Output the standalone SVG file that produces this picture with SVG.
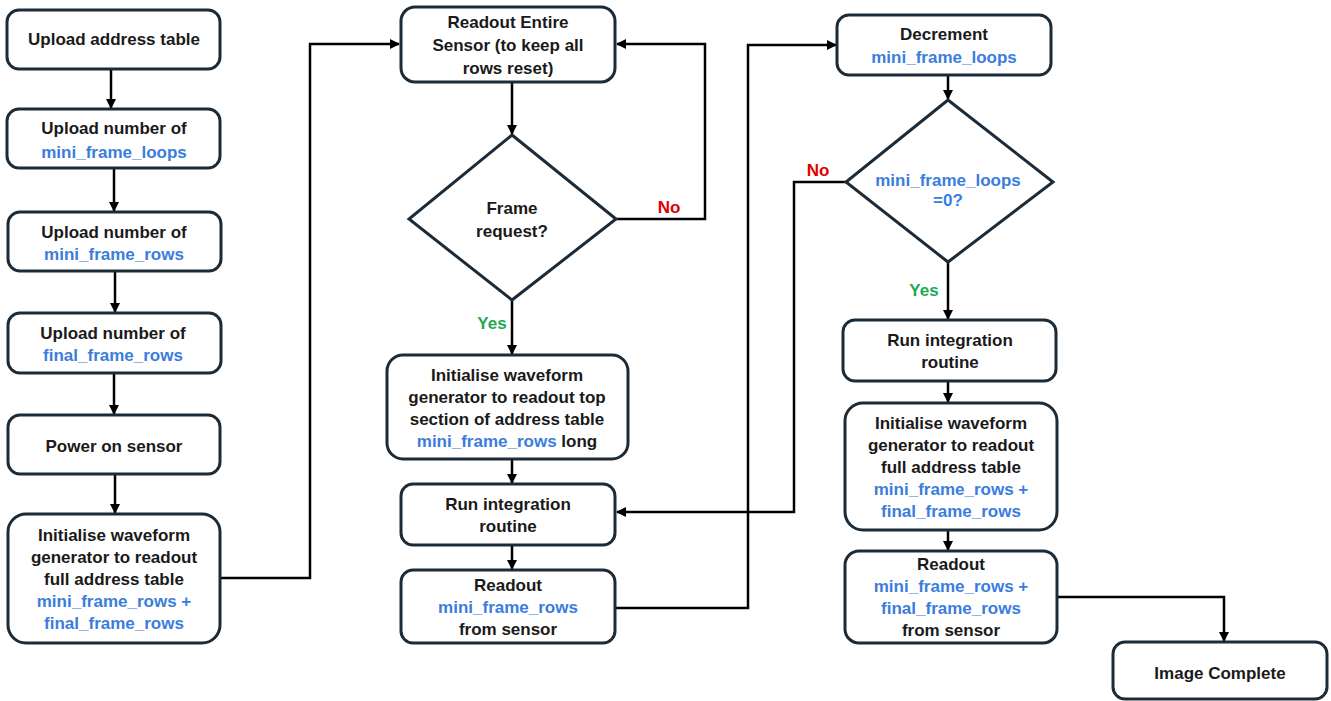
<svg xmlns="http://www.w3.org/2000/svg" width="1331" height="701" viewBox="0 0 1331 701">
<style>
.box{fill:#fff;stroke:#1c2b38;stroke-width:3}
.t{font-family:"Liberation Sans",Arial,sans-serif;font-weight:bold;font-size:17px;fill:#1a1a1a;text-anchor:middle}
.b{fill:#3b7ddd}
.c{fill:none;stroke:#000;stroke-width:2.5;marker-end:url(#ah)}
.no{font-family:"Liberation Sans",Arial,sans-serif;font-weight:bold;font-size:17px;fill:#e00000;text-anchor:middle}
.yes{font-family:"Liberation Sans",Arial,sans-serif;font-weight:bold;font-size:17px;fill:#22a855;text-anchor:middle}
</style>
<defs>
<marker id="ah" viewBox="0 0 10 10" refX="9" refY="5" markerWidth="4" markerHeight="4" markerUnits="strokeWidth" orient="auto">
<path d="M0,0 L10,5 L0,10 z" fill="#000"/>
</marker>
</defs>
<rect width="1331" height="701" fill="#fff"/>
<g id="connectors">
<path class="c" d="M111,69 V108"/>
<path class="c" d="M114,168 V211"/>
<path class="c" d="M115,271 V312"/>
<path class="c" d="M114,373 V414"/>
<path class="c" d="M115,474 V513"/>
<path class="c" d="M220,578 H310 V44 H399"/>
<path class="c" d="M512,82 V134"/>
<path class="c" d="M616,219 H705 V44 H617"/>
<path class="c" d="M512,300 V354"/>
<path class="c" d="M512,459 V483"/>
<path class="c" d="M512,545 V569"/>
<path class="c" d="M615,608 H748 V45 H836"/>
<path class="c" d="M846,182 H794 V512 H617"/>
<path class="c" d="M948,75 V99"/>
<path class="c" d="M948,262 V319"/>
<path class="c" d="M948,381 V402"/>
<path class="c" d="M948,530 V550"/>
<path class="c" d="M1057,597 H1224 V641"/>
<text class="no" x="669" y="213">No</text>
<text class="yes" x="492" y="329">Yes</text>
<text class="no" x="818" y="176">No</text>
<text class="yes" x="924" y="296">Yes</text>
</g>
<g id="n1"><rect class="box" x="7" y="10" width="213" height="59" rx="12"/><text class="t" x="114" y="45">Upload address table</text></g>
<g id="n2"><rect class="box" x="7" y="109" width="213" height="59" rx="12"/><text class="t" x="114" y="134">Upload number of</text><text class="t b" x="114" y="158">mini_frame_loops</text></g>
<g id="n3"><rect class="box" x="8" y="212" width="213" height="59" rx="12"/><text class="t" x="114" y="238">Upload number of</text><text class="t b" x="114" y="260">mini_frame_rows</text></g>
<g id="n4"><rect class="box" x="8" y="313" width="213" height="60" rx="12"/><text class="t" x="113" y="339">Upload number of</text><text class="t b" x="113" y="361">final_frame_rows</text></g>
<g id="n5"><rect class="box" x="8" y="415" width="212" height="59" rx="12"/><text class="t" x="114" y="452">Power on sensor</text></g>
<g id="n6"><rect class="box" x="8" y="514" width="212" height="129" rx="18"/><text class="t" x="114" y="541">Initialise waveform</text><text class="t" x="114" y="563">generator to readout</text><text class="t" x="114" y="585">full address table</text><text class="t b" x="114" y="607">mini_frame_rows +</text><text class="t b" x="114" y="629">final_frame_rows</text></g>
<g id="n7"><rect class="box" x="401" y="7" width="214" height="75" rx="14"/><text class="t" x="508" y="28">Readout Entire</text><text class="t" x="508" y="51">Sensor (to keep all</text><text class="t" x="508" y="74">rows reset)</text></g>
<g id="n8"><polygon class="box" points="512,135 616,219 512,300 409,219"/><text class="t" x="512" y="214">Frame</text><text class="t" x="512" y="237">request?</text></g>
<g id="n9"><rect class="box" x="387" y="355" width="241" height="104" rx="16"/><text class="t" x="507" y="381">Initialise waveform</text><text class="t" x="507" y="403">generator to readout top</text><text class="t" x="507" y="425">section of address table</text><text class="t" x="507" y="447"><tspan class="b">mini_frame_rows</tspan> long</text></g>
<g id="n10"><rect class="box" x="401" y="484" width="214" height="61" rx="12"/><text class="t" x="508" y="510">Run integration</text><text class="t" x="508" y="532">routine</text></g>
<g id="n11"><rect class="box" x="401" y="570" width="214" height="73" rx="12"/><text class="t" x="508" y="591">Readout</text><text class="t b" x="508" y="613">mini_frame_rows</text><text class="t" x="508" y="635">from sensor</text></g>
<g id="n12"><rect class="box" x="837" y="15" width="214" height="60" rx="12"/><text class="t" x="944" y="40">Decrement</text><text class="t b" x="944" y="63">mini_frame_loops</text></g>
<g id="n13"><polygon class="box" points="948,100 1053,182 948,262 846,182"/><text class="t b" x="948" y="186">mini_frame_loops</text><text class="t b" x="948" y="206">=0?</text></g>
<g id="n14"><rect class="box" x="843" y="320" width="213" height="61" rx="12"/><text class="t" x="950" y="346">Run integration</text><text class="t" x="950" y="368">routine</text></g>
<g id="n15"><rect class="box" x="845" y="403" width="212" height="127" rx="18"/><text class="t" x="951" y="429">Initialise waveform</text><text class="t" x="951" y="451">generator to readout</text><text class="t" x="951" y="473">full address table</text><text class="t b" x="951" y="495">mini_frame_rows +</text><text class="t b" x="951" y="517">final_frame_rows</text></g>
<g id="n16"><rect class="box" x="845" y="551" width="212" height="92" rx="14"/><text class="t" x="951" y="570">Readout</text><text class="t b" x="951" y="592">mini_frame_rows +</text><text class="t b" x="951" y="614">final_frame_rows</text><text class="t" x="951" y="636">from sensor</text></g>
<g id="n17"><rect class="box" x="1113" y="642" width="214" height="57" rx="12"/><text class="t" x="1220" y="679">Image Complete</text></g>
</svg>
